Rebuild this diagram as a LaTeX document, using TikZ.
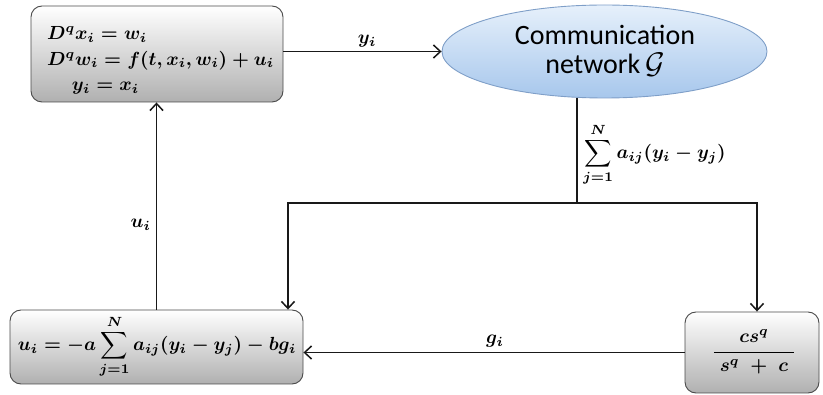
\documentclass[tikz,border=0pt]{standalone}
\usepackage[no-math]{fontspec}
\newfontfamily\carlito{Carlito}
\usetikzlibrary{arrows.meta,shapes.geometric,calc}

\definecolor{boxline}{HTML}{4A4A4A}
\definecolor{ellline}{HTML}{7F9FC8}
\definecolor{elltop}{HTML}{E6F0FB}
\definecolor{ellbot}{HTML}{A7C7EC}

% bold maths enlarged as a whole, so that big operators scale with it
\newcommand{\bigmath}[1]{\scalebox{1.9}{\boldmath$\displaystyle #1$}}

\tikzset{
  blockbox/.style={draw=boxline, line width=0.9pt, rounded corners=11pt,
    top color=white, bottom color=gray!62, inner sep=0pt},
  netnode/.style={ellipse, draw=ellline, line width=0.9pt,
    top color=elltop, bottom color=ellbot, inner sep=0pt},
  wire/.style={line width=1.6pt, black!90},
  arr/.style={wire, -{Straight Barb[length=7pt,width=13pt,line width=1.5pt]}},
  lbl/.style={inner sep=0pt}
}

\begin{document}
\begin{tikzpicture}[x=1pt,y=-1pt]
  \useasboundingbox (0,0) rectangle (823,395);

  % blocks
  \node[blockbox, minimum width=252pt, minimum height=96pt] (plant) at (157,54) {};
  \node[netnode, minimum width=325pt, minimum height=93pt] (net) at (604.5,51.5) {};
  \node[blockbox, minimum width=293pt, minimum height=74pt] (ctrl) at (156.5,347) {};
  \node[blockbox, minimum width=134pt, minimum height=81pt] (filt) at (752,352.5) {};

  % block contents
  \node[lbl, anchor=west] (plantEq) at (47,60)
    {\scalebox{1.9}{\renewcommand{\arraystretch}{1.12}\boldmath
      \begin{tabular}{@{}l@{}}
        $D^q x_i = w_i$\\
        $D^q w_i = f(t, x_i, w_i) + u_i$\\
        \hspace*{13pt}$y_i = x_i$
      \end{tabular}}};
  \node[font=\carlito\fontsize{28}{29}\selectfont, align=center, inner sep=0pt] (netTxt) at (605,51)
    {Communication\\ network\,\scalebox{1.2}{$\mathcal{G}$}};
  \node[lbl] (ctrlEq) at (157,347)
    {\bigmath{u_i = -a\sum_{j=1}^{N} a_{ij}(y_i - y_j) - b g_i}};
  \node[lbl] (filtEq) at (754,352)
    {\bigmath{\frac{c s^q}{\;s^q \;+\; c\;}}};

  % junction points of the feedback wiring
  \coordinate (split) at (577,203);
  \coordinate (jl) at (288,203);
  \coordinate (jr) at (757,203);

  % connectors
  \draw[arr] (plant.east |- net.west) -- (net.west);
  \draw[wire] (split |- net.south) -- (split);
  \draw[arr] (split) -- (jl) -- (jl |- ctrl.north);
  \draw[arr] (split) -- (jr) -- (jr |- filt.north);
  \draw[arr] (filt.west) -- (filt.west -| ctrl.east);
  \draw[arr] (ctrl.north) -- (ctrl.north |- plant.south);

  % signal labels
  \node[lbl] (yLbl) at (367,41) {\bigmath{y_i}};
  \node[lbl] (gLbl) at (495,341) {\bigmath{g_i}};
  \node[lbl, anchor=east] (uLbl) at (151,225) {\bigmath{u_i}};
  \node[lbl, anchor=west] (sumLbl) at (583,155)
    {\bigmath{\sum_{j=1}^{N} a_{ij}(y_i - y_j)}};
\end{tikzpicture}
\end{document}
